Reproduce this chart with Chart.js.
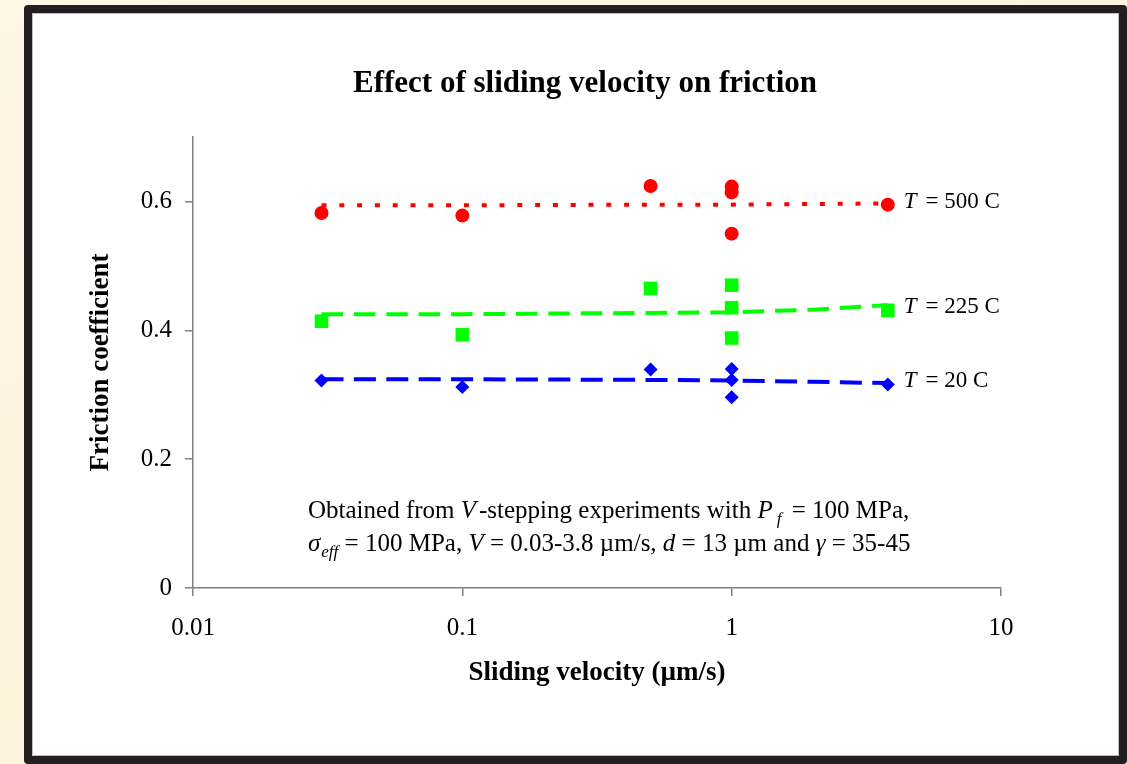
<!DOCTYPE html>
<html><head><meta charset="utf-8">
<script src="https://cdn.jsdelivr.net/npm/chart.js@4.4.1/dist/chart.umd.min.js"></script>
<style>
html,body{margin:0;padding:0;width:1127px;height:764px;overflow:hidden;background:linear-gradient(160deg,#fdf6e4,#fdf1d6);}
#frame{position:absolute;left:24px;top:5px;width:1087px;height:743px;border:8px solid #231f20;border-radius:4px;background:#fff;box-shadow:inset 0 0 0 1px #bdbdbd;}
#c{position:absolute;left:0;top:0;}
</style></head>
<body><div id="frame"></div><canvas id="c" width="1127" height="764"></canvas>
<script>
// ---- data ----
const chartTitle = 'Effect of sliding velocity on friction';
const xAxisTitle = 'Sliding velocity (\u00b5m/s)';
const yAxisTitle = 'Friction coefficient';
const xTicks = [0.01, 0.1, 1, 10];
const xTickLabels = ['0.01', '0.1', '1', '10'];
const yTicks = [0, 0.2, 0.4, 0.6];
const yTickLabels = ['0', '0.2', '0.4', '0.6'];

const seriesNames = ['T = 500 C', 'T = 225 C', 'T = 20 C'];

const velocity500 = [0.03, 0.1, 0.5, 1, 1, 1, 3.8];
const friction500 = [0.582, 0.578, 0.624, 0.623, 0.614, 0.550, 0.595];
const velocity225 = [0.03, 0.1, 0.5, 1, 1, 1, 3.8];
const friction225 = [0.414, 0.393, 0.465, 0.470, 0.435, 0.388, 0.431];
const velocity20 = [0.03, 0.1, 0.5, 1, 1, 1, 3.8];
const friction20 = [0.322, 0.312, 0.339, 0.340, 0.323, 0.296, 0.316];

// trend lines
const trendVelocity = [0.03, 0.1, 0.5, 1, 2, 3.8];
const trend500 = [0.594, 0.594, 0.595, 0.595, 0.596, 0.597];
const trend225 = [0.425, 0.425, 0.427, 0.428, 0.432, 0.439];
const trend20 = [0.324, 0.324, 0.323, 0.322, 0.320, 0.318];

const noteLine1 = [
  {t: 'Obtained from '}, {t: 'V', i: true, gap: 3}, {t: '-stepping experiments with '},
  {t: 'P', i: true, gap: 4}, {t: 'f', i: true, sub: true, gap: 4}, {t: ' = 100 MPa,'}
];
const noteLine2 = [
  {t: '\u03c3', i: true, gap: 1}, {t: 'eff', i: true, sub: true}, {t: ' = 100 MPa, '},
  {t: 'V', i: true}, {t: ' = 0.03-3.8 \u00b5m/s, '}, {t: 'd', i: true}, {t: ' = 13 \u00b5m and '},
  {t: '\u03b3', i: true}, {t: ' = 35-45'}
];

// ---- rendering ----
const serif = '"Liberation Serif", "Times New Roman", serif';
const pts = (xs, ys) => xs.map((x, k) => ({x: x, y: ys[k]}));

function drawRich(ctx, x, y, segs, size) {
  let cx = x;
  for (const s of segs) {
    const fs = s.sub ? size * 0.68 : size;
    ctx.font = (s.i ? 'italic ' : '') + fs + 'px ' + serif;
    ctx.fillText(s.t, cx, y + (s.sub ? size * 0.22 : 0));
    cx += ctx.measureText(s.t).width + (s.gap || 0);
  }
}

const textPlugin = {
  id: 'texts',
  afterDraw(chart) {
    const ctx = chart.ctx;
    const xs = chart.scales.x, ys = chart.scales.y;
    ctx.save();
    ctx.fillStyle = '#000';
    // title
    ctx.font = 'bold 31px ' + serif;
    ctx.textAlign = 'center';
    ctx.textBaseline = 'middle';
    ctx.fillText(chartTitle, 585, 84);
    // series labels
    ctx.textAlign = 'left';
    const lastY = [friction500[6], friction225[6], friction20[6]];
    const lastX = [velocity500[6], velocity225[6], velocity20[6]];
    seriesNames.forEach((name, k) => {
      const px = xs.getPixelForValue(lastX[k]) + 16;
      const py = ys.getPixelForValue(lastY[k]) - 3;
      ctx.font = 'italic 23px ' + serif;
      ctx.fillText(name.charAt(0), px, py);
      const w = ctx.measureText(name.charAt(0)).width;
      ctx.font = '23px ' + serif;
      ctx.fillText(name.slice(2), px + w + 9, py);
    });
    // note
    ctx.textBaseline = 'alphabetic';
    drawRich(ctx, 308, 518, noteLine1, 25);
    drawRich(ctx, 308, 551, noteLine2, 25);
    ctx.restore();
  }
};

const axisGrey = '#808080';
new Chart(document.getElementById('c'), {
  type: 'scatter',
  data: {
    datasets: [
      {label: seriesNames[0], data: pts(velocity500, friction500), pointStyle: 'circle', pointRadius: 7,
       backgroundColor: '#ff0000', borderWidth: 0, showLine: false},
      {label: seriesNames[1], data: pts(velocity225, friction225), pointStyle: 'rect', pointRadius: 9.6,
       backgroundColor: '#00ff00', borderWidth: 0, showLine: false},
      {label: seriesNames[2], data: pts(velocity20, friction20), pointStyle: 'rectRot', pointRadius: 7,
       backgroundColor: '#0000ff', borderWidth: 0, showLine: false},
      {label: 'trend 500', data: pts(trendVelocity, trend500), showLine: true, pointRadius: 0,
       borderColor: '#ff0000', borderWidth: 4, borderDash: [5, 12.8], borderCapStyle: 'butt'},
      {label: 'trend 225', data: pts(trendVelocity, trend225), showLine: true, pointRadius: 0,
       borderColor: '#00ff00', borderWidth: 4, borderDash: [21.5, 10.9], borderCapStyle: 'butt'},
      {label: 'trend 20', data: pts(trendVelocity, trend20), showLine: true, pointRadius: 0,
       borderColor: '#0000ff', borderWidth: 4, borderDash: [22, 10.4], borderCapStyle: 'butt'}
    ]
  },
  options: {
    responsive: false,
    animation: false,
    devicePixelRatio: 1,
    layout: {padding: {left: 85, right: 126, top: 137, bottom: 75}},
    plugins: {legend: {display: false}, tooltip: {enabled: false}, title: {display: false}},
    scales: {
      x: {
        type: 'logarithmic', position: 'bottom', min: 0.01, max: 10,
        afterBuildTicks: s => { s.ticks = xTicks.map(v => ({value: v})); },
        afterFit: s => { s.height = 101; },
        ticks: {callback: (v, i) => xTickLabels[i], font: {family: serif, size: 25}, color: '#000',
                padding: 17, maxRotation: 0, autoSkip: false},
        grid: {display: true, drawOnChartArea: false, drawTicks: true, tickLength: 8, color: axisGrey, lineWidth: 1.5},
        border: {display: true, color: axisGrey, width: 1.5},
        title: {display: true, text: xAxisTitle, font: {family: serif, size: 27, weight: 'bold'}, color: '#000', padding: 0}
      },
      y: {
        type: 'linear', position: 'left', min: 0, max: 0.7,
        afterBuildTicks: s => { s.ticks = yTicks.map(v => ({value: v})); },
        afterFit: s => { s.width = 108; },
        ticks: {callback: (v, i) => yTickLabels[i], font: {family: serif, size: 25}, color: '#000', padding: 13},
        grid: {display: true, drawOnChartArea: false, drawTicks: true, tickLength: 8, color: axisGrey, lineWidth: 1.5},
        border: {display: true, color: axisGrey, width: 1.5},
        title: {display: true, text: yAxisTitle, font: {family: serif, size: 27, weight: 'bold'}, color: '#000', padding: 0}
      }
    }
  },
  plugins: [textPlugin]
});
</script>
</body></html>
